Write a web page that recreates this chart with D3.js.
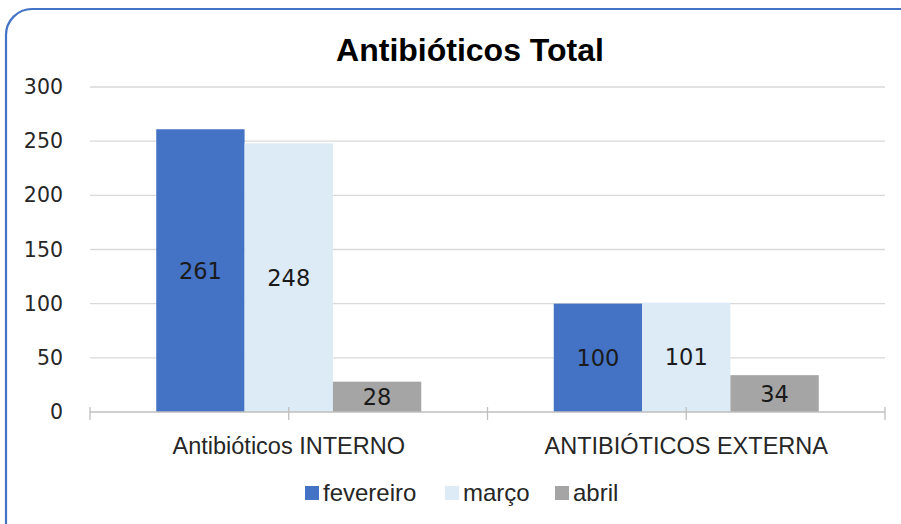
<!DOCTYPE html>
<html>
<head>
<meta charset="utf-8">
<script src="https://cdn.jsdelivr.net/npm/d3@7"></script>
<style>
  body { margin: 0; background: #fff; }
  svg { display: block; }
</style>
</head>
<body>
<div id="chart"></div>
<script>
const categories = ['Antibióticos INTERNO', 'ANTIBIÓTICOS EXTERNA'];
const seriesNames = ['fevereiro', 'março', 'abril'];
const fevereiro = [261, 100];
const marco = [248, 101];
const abril = [28, 34];
const yTicks = [0, 50, 100, 150, 200, 250, 300];

const seriesValues = [fevereiro, marco, abril];
const colors = ['#4472C4', '#DDEBF7', '#A5A5A5'];

const W = 901, H = 524;
const margin = { top: 87, right: 16, bottom: 112, left: 90 };
const width = W - margin.left - margin.right;
const height = H - margin.top - margin.bottom;

const narrow = '"Liberation Sans Narrow", "Liberation Sans", Arial, sans-serif';
const wide = '"DejaVu Sans", Verdana, sans-serif';

const root = d3.select('#chart').append('svg')
  .attr('width', W)
  .attr('height', H);

// chart frame
root.append('rect')
  .attr('x', 6)
  .attr('y', 9)
  .attr('width', 930)
  .attr('height', 540)
  .attr('rx', 26)
  .attr('fill', '#fff')
  .attr('stroke', '#4472C4')
  .attr('stroke-width', 2.2);

root.append('text')
  .attr('x', 470)
  .attr('y', 61)
  .attr('text-anchor', 'middle')
  .style('font-family', narrow)
  .style('font-weight', 'bold')
  .style('font-size', '32px')
  .style('fill', '#000')
  .text('Antibióticos Total');

const svg = root.append('g')
  .attr('transform', `translate(${margin.left},${margin.top})`);

const x0 = d3.scaleBand().domain(categories).range([0, width]).paddingInner(0).paddingOuter(0);
const barW = x0.bandwidth() / 4.5;
const x1 = d3.scaleBand().domain(seriesNames).range([0, barW * 3]);
const y = d3.scaleLinear().domain([0, 300]).range([height, 0]);

// gridlines
svg.append('g')
  .selectAll('line')
  .data(yTicks.filter((d) => d > 0))
  .enter()
  .append('line')
  .attr('x1', 0)
  .attr('x2', width)
  .attr('y1', (d) => y(d))
  .attr('y2', (d) => y(d))
  .attr('stroke', '#D9D9D9')
  .attr('stroke-width', 1.3);

// y labels
const yAxis = svg.append('g')
  .call(d3.axisLeft(y).tickValues(yTicks).tickSize(0).tickPadding(27));
yAxis.select('.domain').remove();
yAxis.selectAll('text')
  .style('font-family', wide)
  .style('font-size', '20.5px')
  .style('fill', '#262626');

// bars
const rows = categories.map((c, i) => ({
  cat: c,
  vals: seriesNames.map((s, j) => ({ key: s, idx: j, value: seriesValues[j][i] })),
}));

const groups = svg.selectAll('.grp')
  .data(rows)
  .enter()
  .append('g')
  .attr('class', 'grp')
  .attr('transform', (d) => `translate(${x0(d.cat) + (x0.bandwidth() - barW * 3) / 2},0)`);

groups.selectAll('rect')
  .data((d) => d.vals)
  .enter()
  .append('rect')
  .attr('x', (d) => x1(d.key))
  .attr('y', (d) => y(d.value))
  .attr('width', x1.bandwidth())
  .attr('height', (d) => height - y(d.value))
  .attr('fill', (d) => colors[d.idx]);

groups.selectAll('.lbl')
  .data((d) => d.vals)
  .enter()
  .append('text')
  .attr('class', 'lbl')
  .attr('x', (d) => x1(d.key) + x1.bandwidth() / 2)
  .attr('y', (d) => (y(d.value) + height) / 2)
  .attr('dy', '0.36em')
  .attr('text-anchor', 'middle')
  .style('font-family', wide)
  .style('font-size', '22.5px')
  .style('fill', '#1a1a1a')
  .text((d) => d.value);

// category axis
const xAxis = svg.append('g')
  .attr('transform', `translate(0,${height})`);
xAxis.append('line')
  .attr('x1', 0).attr('x2', width)
  .attr('stroke', '#BFBFBF').attr('stroke-width', 1.3);
const tickPos = d3.range(0, 1.0001, 0.25).map((t) => t * width);
xAxis.selectAll('.tk')
  .data(tickPos)
  .enter()
  .append('line')
  .attr('class', 'tk')
  .attr('x1', (d) => d).attr('x2', (d) => d)
  .attr('y1', -5).attr('y2', 8)
  .attr('stroke', '#BFBFBF').attr('stroke-width', 1.3);
xAxis.selectAll('.cat')
  .data(categories)
  .enter()
  .append('text')
  .attr('class', 'cat')
  .attr('x', (d) => x0(d) + x0.bandwidth() / 2)
  .attr('y', 42)
  .attr('text-anchor', 'middle')
  .style('font-family', narrow)
  .style('font-size', '23.5px')
  .style('fill', '#262626')
  .text((d) => d);

// legend
const legend = root.append('g').attr('transform', 'translate(0,493)');
const legX = [305, 445, 555];
seriesNames.forEach((s, i) => {
  legend.append('rect')
    .attr('x', legX[i])
    .attr('y', -7)
    .attr('width', 14)
    .attr('height', 14)
    .attr('fill', colors[i]);
  legend.append('text')
    .attr('x', legX[i] + 18)
    .attr('y', 0)
    .attr('dy', '0.35em')
    .style('font-family', narrow)
    .style('font-size', '24px')
    .style('fill', '#262626')
    .text(s);
});
</script>
</body>
</html>
